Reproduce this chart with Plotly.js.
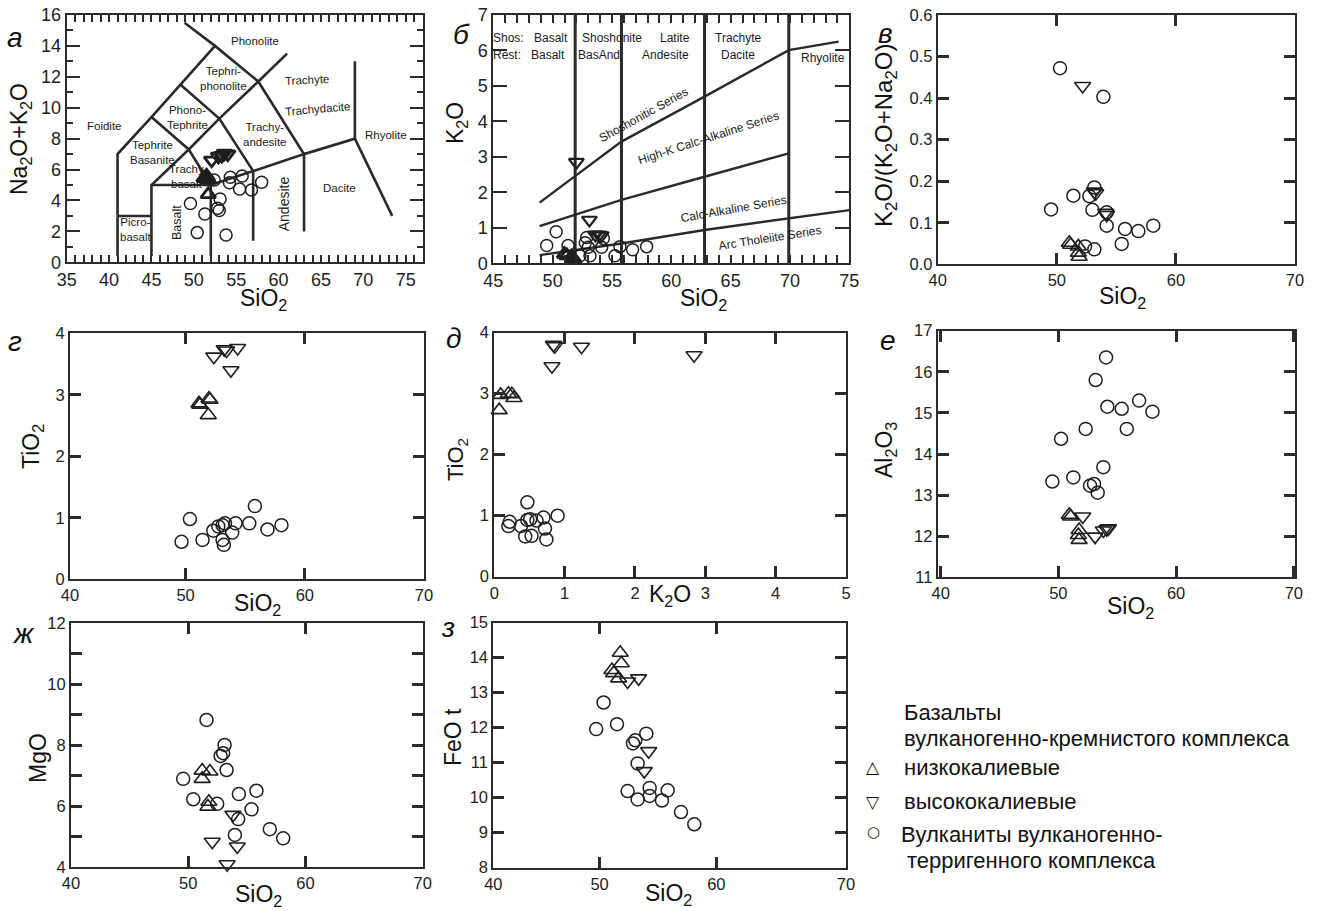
<!DOCTYPE html>
<html><head><meta charset="utf-8">
<script src="https://cdn.plot.ly/plotly-3.0.1.min.js"></script>
<style>html,body{margin:0;padding:0;background:#fff}</style>
</head><body><div id="chart" style="width:1322px;height:911px"></div>
<script>
// ---------- DATA ----------
// Panel а: TAS (SiO2 vs Na2O+K2O)
const tasLowSi   = [51.2, 51.5, 51.7, 51.6, 51.7];
const tasLowAlk  = [5.45, 5.6, 5.35, 5.5, 4.4];
const tasHighSi  = [52.1, 52.9, 53.3, 53.6, 54.0];
const tasHighAlk = [6.6, 6.85, 6.9, 7.05, 7.0];
const tasCircSi  = [49.6, 50.4, 51.3, 52.4, 52.8, 53.0, 53.1, 53.8, 54.3, 54.2, 55.4, 55.7, 56.8, 58.0];
const tasCircAlk = [3.8, 1.92, 3.12, 5.32, 3.5, 3.35, 4.1, 1.77, 5.5, 5.15, 4.74, 5.58, 4.68, 5.18];
const tasSegments = [
  [[41,0.4],[41,7],[45,9.4],[48.4,11.5],[52.5,14],[57.6,11.7],[63,7],[69,8],[73.4,3]],
  [[52.5,14],[48.9,15.5]],
  [[45,0.4],[45,5],[49.4,7.3],[53,9.3],[57.6,11.7],[61,13.5]],
  [[45,9.4],[49.4,7.3],[52,5],[52,0.4]],
  [[48.4,11.5],[53,9.3],[57,5.9],[57,1.4]],
  [[45,5],[52,5],[57,5.9],[63,7],[63,2]],
  [[41,3],[45,3]],
  [[69,8],[69,13]]
];
const tasLabels = [
  ['Phonolite',57.2,14.3,0],['Tephri-<br>phonolite',53.5,11.9,0],['Trachyte',63.3,11.8,-3],
  ['Trachydacite',64.6,9.95,-5],['Phono-<br>Tephrite',49.2,9.4,0],['Foidite',39.5,8.8,0],
  ['Trachy-<br>andesite',58.3,8.3,0],['Rhyolite',72.7,8.25,0],['Tephrite<br>Basanite',45.1,7.1,0],
  ['Trachy<br>basalt',49.1,5.55,0],['Dacite',67.2,4.8,0],['Picro-<br>basalt',43.1,2.1,0]
];
const tasRotLabels = [['Andesite',60.6,3.8,14],['Basalt',48.0,2.6,12.5]];

// Panel б: SiO2 vs K2O
const kLowSi   = [51.0, 51.2, 51.6, 51.7, 51.8];
const kLowK    = [0.26, 0.22, 0.19, 0.14, 0.12];
const kHighSi  = [52.0, 53.1, 53.6, 53.9, 54.1];
const kHighK   = [2.85, 1.22, 0.8, 0.8, 0.78];
const kCircSi  = [49.5, 50.3, 51.3, 52.3, 52.75, 52.87, 53.0, 53.15, 54.13, 54.27, 55.25, 55.67, 56.74, 57.92];
const kCircK   = [0.50, 0.89, 0.50, 0.21, 0.58, 0.73, 0.45, 0.21, 0.45, 0.70, 0.21, 0.47, 0.38, 0.47];
const kDividers = [51.9, 55.8, 62.8, 69.9];
const kShosLine = [[48.9,1.71],[55.8,3.43],[62.8,4.70],[69.9,6.01],[74.1,6.25]];
const kHighKLine = [[48.9,1.05],[55.8,1.79],[62.8,2.44],[69.9,3.10]];
const kCALine = [[48.9,0.23],[55.8,0.56],[62.8,0.94],[69.9,1.27],[75,1.50]];
const kRowLabels = [
  ['Shos:',46.26,6.36],['Basalt',49.86,6.36],['Shoshonite',54.97,6.36],['Latite',60.31,6.36],['Trachyte',65.65,6.36],
  ['Rest:',46.12,5.87],['Basalt',49.63,5.87],['BasAnd',53.9,5.87],['Andesite',59.47,5.87],['Dacite',65.65,5.87],
  ['Rhyolite',72.8,5.78]
];
const kSeriesLabels = [
  ['Shoshonitic Series',57.64,4.18,-29],['High-K Calc-Alkaline Series',63.1,3.52,-18],
  ['Calc-Alkaline Series',65.2,1.52,-10],['Arc Tholeiite Series',68.3,0.72,-9]
];

// Panel в: SiO2 vs K2O/(K2O+Na2O)
const ratLowSi  = [51.05, 51.17, 51.81, 51.81, 51.87];
const ratLow    = [0.052, 0.047, 0.043, 0.028, 0.018];
const ratHighSi = [52.17, 53.15, 53.27, 54.1, 54.19];
const ratHigh   = [0.429, 0.175, 0.171, 0.124, 0.119];
const ratCircSi = [50.27, 53.91, 49.52, 51.39, 52.73, 53.15, 52.99, 54.19, 54.19, 55.73, 56.85, 58.1, 55.45, 53.15, 52.37];
const ratCirc   = [0.472, 0.403, 0.132, 0.165, 0.164, 0.185, 0.131, 0.125, 0.093, 0.085, 0.080, 0.093, 0.049, 0.036, 0.043];

// Panel г: SiO2 vs TiO2
const tiLowSi  = [51.12, 51.2, 51.96, 52.04, 51.9];
const tiLow    = [2.86, 2.84, 2.94, 2.92, 2.67];
const tiHighSi = [52.37, 53.24, 53.44, 54.36, 53.8];
const tiHigh   = [3.62, 3.74, 3.72, 3.76, 3.40];
const tiCircSi = [49.66, 50.36, 51.42, 52.32, 52.74, 53.1, 53.3, 53.1, 53.21, 53.91, 54.19, 55.34, 55.81, 56.87, 58.04];
const tiCirc   = [0.61, 0.98, 0.64, 0.79, 0.86, 0.88, 0.91, 0.64, 0.56, 0.76, 0.91, 0.91, 1.19, 0.81, 0.88];

// Panel д: K2O vs TiO2
const tkLowK   = [0.09, 0.07, 0.2, 0.25, 0.28];
const tkLowTi  = [2.98, 2.73, 3.0, 2.99, 2.93];
const tkHighK  = [0.84, 0.82, 1.24, 2.84, 0.86];
const tkHighTi = [3.80, 3.45, 3.77, 3.63, 3.78];
const tkCircK  = [0.22, 0.2, 0.47, 0.38, 0.47, 0.44, 0.53, 0.6, 0.70, 0.72, 0.74, 0.9, 0.51];
const tkCircTi = [0.90, 0.83, 1.22, 0.83, 0.93, 0.66, 0.67, 0.92, 0.97, 0.79, 0.61, 1.0, 0.94];

// Panel е: SiO2 vs Al2O3
const alLowSi  = [50.93, 51.05, 51.76, 51.76, 51.7];
const alLow    = [12.52, 12.48, 12.15, 11.91, 12.03];
const alHighSi = [52.07, 53.12, 53.82, 54.11, 54.25];
const alHigh   = [12.48, 11.99, 12.14, 12.17, 12.19];
const alCircSi = [54.05, 53.17, 54.16, 55.38, 56.86, 57.99, 55.81, 52.32, 50.23, 49.49, 51.27, 53.82, 52.69, 53.03, 53.34];
const alCirc   = [16.35, 15.80, 15.15, 15.10, 15.30, 15.03, 14.61, 14.61, 14.37, 13.33, 13.43, 13.68, 13.23, 13.27, 13.06];

// Panel ж: SiO2 vs MgO
const mgLowSi  = [51.19, 51.85, 51.19, 51.76, 51.68];
const mgLow    = [7.17, 7.14, 6.90, 6.15, 5.99];
const mgHighSi = [53.81, 52.05, 54.18, 53.32];
const mgHigh   = [5.72, 4.84, 4.68, 4.10];
const mgCircSi = [51.56, 53.1, 52.98, 52.76, 53.27, 49.57, 50.43, 52.47, 54.32, 55.82, 55.4, 54.26, 53.98, 56.96, 58.1];
const mgCirc   = [8.83, 8.01, 7.74, 7.65, 7.19, 6.90, 6.23, 6.08, 6.40, 6.51, 5.90, 5.58, 5.06, 5.25, 4.95];

// Panel з: SiO2 vs FeOt
const feLowSi  = [51.77, 51.86, 51.06, 51.2, 51.63];
const feLow    = [14.14, 13.84, 13.65, 13.56, 13.41];
const feHighSi = [52.4, 53.34, 54.2, 53.83];
const feHigh   = [13.32, 13.41, 11.33, 10.76];
const feCircSi = [49.71, 50.34, 51.49, 52.86, 53.06, 54.0, 53.26, 52.4, 53.26, 54.29, 54.29, 55.34, 55.83, 56.97, 58.11];
const feCirc   = [11.96, 12.72, 12.10, 11.55, 11.64, 11.83, 10.98, 10.19, 9.95, 10.28, 10.05, 9.92, 10.21, 9.59, 9.24];

const legendTitle = ['Базальты', 'вулканогенно-кремнистого комплекса'];
const legendItems = ['низкокалиевые', 'высококалиевые', 'Вулканиты вулканогенно-', 'терригенного комплекса'];

// ---------- LAYOUT HELPERS ----------
const W = 1322, H = 911;
const F = 'Liberation Sans, Arial, Helvetica, sans-serif';
const INK = '#1e1e1e';
const small = {family:F, size:16.5, color:'#222'};
const big = {family:F, size:18, color:'#222'};

function xa(l, r, range, anchor, extra) {
  return Object.assign({domain:[l/W, r/W], range:range, anchor:anchor, showline:true, linecolor:'#2a2a2a', linewidth:2,
    mirror:'ticks', ticks:'inside', ticklen:11, tickwidth:3, tickcolor:'#2a2a2a', showgrid:false, zeroline:false,
    tickfont:small, fixedrange:true}, extra || {});
}
function ya(t, b, range, anchor, extra) {
  return Object.assign({domain:[1-b/H, 1-t/H], range:range, anchor:anchor, showline:true, linecolor:'#2a2a2a', linewidth:2,
    mirror:'ticks', ticks:'inside', ticklen:11, tickwidth:3, tickcolor:'#2a2a2a', showgrid:false, zeroline:false,
    tickfont:small, fixedrange:true}, extra || {});
}
function pts(x, y, sym, size, lw, xax, yax) {
  return {type:'scatter', mode:'markers', x:x, y:y, xaxis:xax, yaxis:yax, hoverinfo:'skip', cliponaxis:false,
    marker:{symbol:sym, size:size, color:INK, line:{width:lw, color:INK}}};
}
function lines(segs, xax, yax, w) {
  const x = [], y = [];
  segs.forEach(s => { s.forEach(p => { x.push(p[0]); y.push(p[1]); }); x.push(null); y.push(null); });
  return {type:'scatter', mode:'lines', x:x, y:y, xaxis:xax, yaxis:yax, hoverinfo:'skip',
    line:{color:'#2a2a2a', width:w}};
}
function pann(text, x, y, size, opts) {
  return Object.assign({xref:'paper', yref:'paper', x:x/W, y:1-y/H, text:text, showarrow:false,
    font:{family:F, size:size, color:'#111'}, xanchor:'center', yanchor:'middle'}, opts || {});
}
function dann(text, x, y, xr, yr, size, angle) {
  return {xref:xr, yref:yr, x:x, y:y, text:text, showarrow:false, textangle:angle || 0,
    font:{family:F, size:size, color:'#1a1a1a'}, xanchor:'center', yanchor:'middle'};
}

// ---------- TRACES ----------
const traces = [];
// а
traces.push(lines(tasSegments, 'x', 'y', 2.6));
traces.push(pts(tasCircSi, tasCircAlk, 'circle-open', 12, 1.5, 'x', 'y'));
traces.push(pts(tasLowSi, tasLowAlk, 'triangle-up-open', 13, 2.8, 'x', 'y'));
traces.push(pts(tasHighSi, tasHighAlk, 'triangle-down-open', 13, 2.8, 'x', 'y'));
// б
traces.push(lines(kDividers.map(v => [[v,0],[v,7]]), 'x2', 'y2', 3));
traces.push(lines([kShosLine, kHighKLine, kCALine], 'x2', 'y2', 2.4));
traces.push(pts(kCircSi, kCircK, 'circle-open', 12, 1.5, 'x2', 'y2'));
traces.push(pts(kLowSi, kLowK, 'triangle-up-open', 13, 2.8, 'x2', 'y2'));
traces.push(pts(kHighSi, kHighK, 'triangle-down-open', 13, 2.2, 'x2', 'y2'));
// в..з
const sets = [
  ['x3','y3', ratCircSi, ratCirc, ratLowSi, ratLow, ratHighSi, ratHigh],
  ['x4','y4', tiCircSi, tiCirc, tiLowSi, tiLow, tiHighSi, tiHigh],
  ['x5','y5', tkCircK, tkCircTi, tkLowK, tkLowTi, tkHighK, tkHighTi],
  ['x6','y6', alCircSi, alCirc, alLowSi, alLow, alHighSi, alHigh],
  ['x7','y7', mgCircSi, mgCirc, mgLowSi, mgLow, mgHighSi, mgHigh],
  ['x8','y8', feCircSi, feCirc, feLowSi, feLow, feHighSi, feHigh]
];
sets.forEach(s => {
  traces.push(pts(s[2], s[3], 'circle-open', 13, 1.5, s[0], s[1]));
  traces.push(pts(s[4], s[5], 'triangle-up-open', 14, 1.6, s[0], s[1]));
  traces.push(pts(s[6], s[7], 'triangle-down-open', 14, 1.6, s[0], s[1]));
});

// ---------- AXES ----------
const layout = {
  width:W, height:H, margin:{l:0, r:0, t:0, b:0}, paper_bgcolor:'#fff', plot_bgcolor:'#fff',
  showlegend:false, hovermode:false,
  xaxis:  xa(66.7, 422.7, [35, 77], 'y', {dtick:5, tick0:35, ticklen:7, tickwidth:2, tickfont:big,
            minor:{dtick:1, tick0:35, ticks:'inside', ticklen:7, tickwidth:2, tickcolor:'#2a2a2a'}}),
  yaxis:  ya(15, 262.3, [0, 16], 'x', {dtick:2, ticklen:13, tickwidth:2, tickfont:big,
            minor:{dtick:1, ticks:'inside', ticklen:6, tickwidth:2, tickcolor:'#2a2a2a'}}),
  xaxis2: xa(493.3, 849.3, [45, 75], 'y2', {dtick:5, ticklen:8, tickwidth:2, tickfont:big,
            minor:{dtick:1, ticks:'inside', ticklen:8, tickwidth:2, tickcolor:'#2a2a2a'}}),
  yaxis2: ya(15, 263.3, [0, 7], 'x2', {dtick:1, ticklen:14, tickwidth:2, tickfont:big}),
  xaxis3: xa(937.7, 1295, [40, 70], 'y3', {dtick:10}),
  yaxis3: ya(15, 264.3, [0, 0.6], 'x3', {dtick:0.1, tickformat:'.1f'}),
  xaxis4: xa(70, 424, [40.3, 70], 'y4', {tickmode:'array', tickvals:[40.3,50,60,70], ticktext:['40','50','60','70']}),
  yaxis4: ya(333.3, 579.3, [0, 4], 'x4', {dtick:1}),
  xaxis5: xa(494.3, 846, [0, 5], 'y5', {dtick:1}),
  yaxis5: ya(332.7, 576.7, [0, 4], 'x5', {dtick:1}),
  xaxis6: xa(937.7, 1295, [39.75, 70.1], 'y6', {tickmode:'array', tickvals:[40,50,60,70]}),
  yaxis6: ya(330.7, 577.3, [11, 17], 'x6', {dtick:1}),
  xaxis7: xa(71, 422.7, [40, 70], 'y7', {dtick:10}),
  yaxis7: ya(623.3, 867.3, [4, 12], 'x7', {dtick:2,
            minor:{dtick:1, ticks:'inside', ticklen:11, tickwidth:3, tickcolor:'#2a2a2a'}}),
  xaxis8: xa(493.3, 846, [40.9, 71.1], 'y8', {tickmode:'array', tickvals:[40.9,50,60,71.1], ticktext:['40','50','60','70']}),
  yaxis8: ya(622.7, 867.7, [8, 15], 'x8', {dtick:1}),
  annotations: []
};

const A = layout.annotations;
// TAS labels
tasLabels.forEach(l => A.push(dann(l[0], l[1], l[2], 'x', 'y', 11.5, l[3])));
tasRotLabels.forEach(l => A.push(dann(l[0], l[1], l[2], 'x', 'y', l[3], -90)));
// K2O labels
kRowLabels.forEach(l => A.push(dann(l[0], l[1], l[2], 'x2', 'y2', 12, 0)));
kSeriesLabels.forEach(l => A.push(dann(l[0], l[1], l[2], 'x2', 'y2', 12, l[3])));

// axis titles (pixel positions)
const T = 23;
A.push(pann('Na<sub>2</sub>O+K<sub>2</sub>O', 20, 139, T, {textangle:-90}));
A.push(pann('SiO<sub>2</sub>', 263, 299, T));
A.push(pann('K<sub>2</sub>O', 457, 123, T, {textangle:-90}));
A.push(pann('SiO<sub>2</sub>', 703, 299, T));
A.push(pann('K<sub>2</sub>O/(K<sub>2</sub>O+Na<sub>2</sub>O)', 885, 136, 24, {textangle:-90}));
A.push(pann('SiO<sub>2</sub>', 1122, 297, T));
A.push(pann('TiO<sub>2</sub>', 32, 447, T, {textangle:-90}));
A.push(pann('SiO<sub>2</sub>', 257, 604, T));
A.push(pann('TiO<sub>2</sub>', 457, 460, 22, {textangle:-90}));
A.push(pann('K<sub>2</sub>O', 670, 595, T));
A.push(pann('Al<sub>2</sub>O<sub>3</sub>', 885, 450, T, {textangle:-90}));
A.push(pann('SiO<sub>2</sub>', 1130, 607, T));
A.push(pann('MgO', 38, 758, T, {textangle:-90}));
A.push(pann('SiO<sub>2</sub>', 258, 895, T));
A.push(pann('FeO t', 453, 737, T, {textangle:-90}));
A.push(pann('SiO<sub>2</sub>', 668, 894, T));

// panel letters
[['а',15,37],['б',462,35],['в',885,33],['г',15,342],['д',453,338],['е',888,340],['ж',23,633],['з',448,627]]
  .forEach(p => A.push(pann('<i>' + p[0] + '</i>', p[1], p[2], 28)));

// legend
const LF = 22;
A.push(pann(legendTitle[0], 901.5, 712, LF, {xanchor:'left'}));
A.push(pann(legendTitle[1], 901.5, 738, LF, {xanchor:'left'}));
A.push(pann('△', 873, 767, 17, {font:{family:'DejaVu Sans', size:17, color:'#111'}}));
A.push(pann(legendItems[0], 901.5, 767, LF, {xanchor:'left'}));
A.push(pann('▽', 873, 802, 17, {font:{family:'DejaVu Sans', size:17, color:'#111'}}));
A.push(pann(legendItems[1], 901.5, 801, LF, {xanchor:'left'}));
A.push(pann('○', 873, 832, 15, {font:{family:'DejaVu Sans', size:15, color:'#111'}}));
A.push(pann(legendItems[2], 899, 834, LF, {xanchor:'left'}));
A.push(pann(legendItems[3], 905, 860, LF, {xanchor:'left'}));

Plotly.newPlot('chart', traces, layout, {displayModeBar:false, staticPlot:true});
</script></body></html>
